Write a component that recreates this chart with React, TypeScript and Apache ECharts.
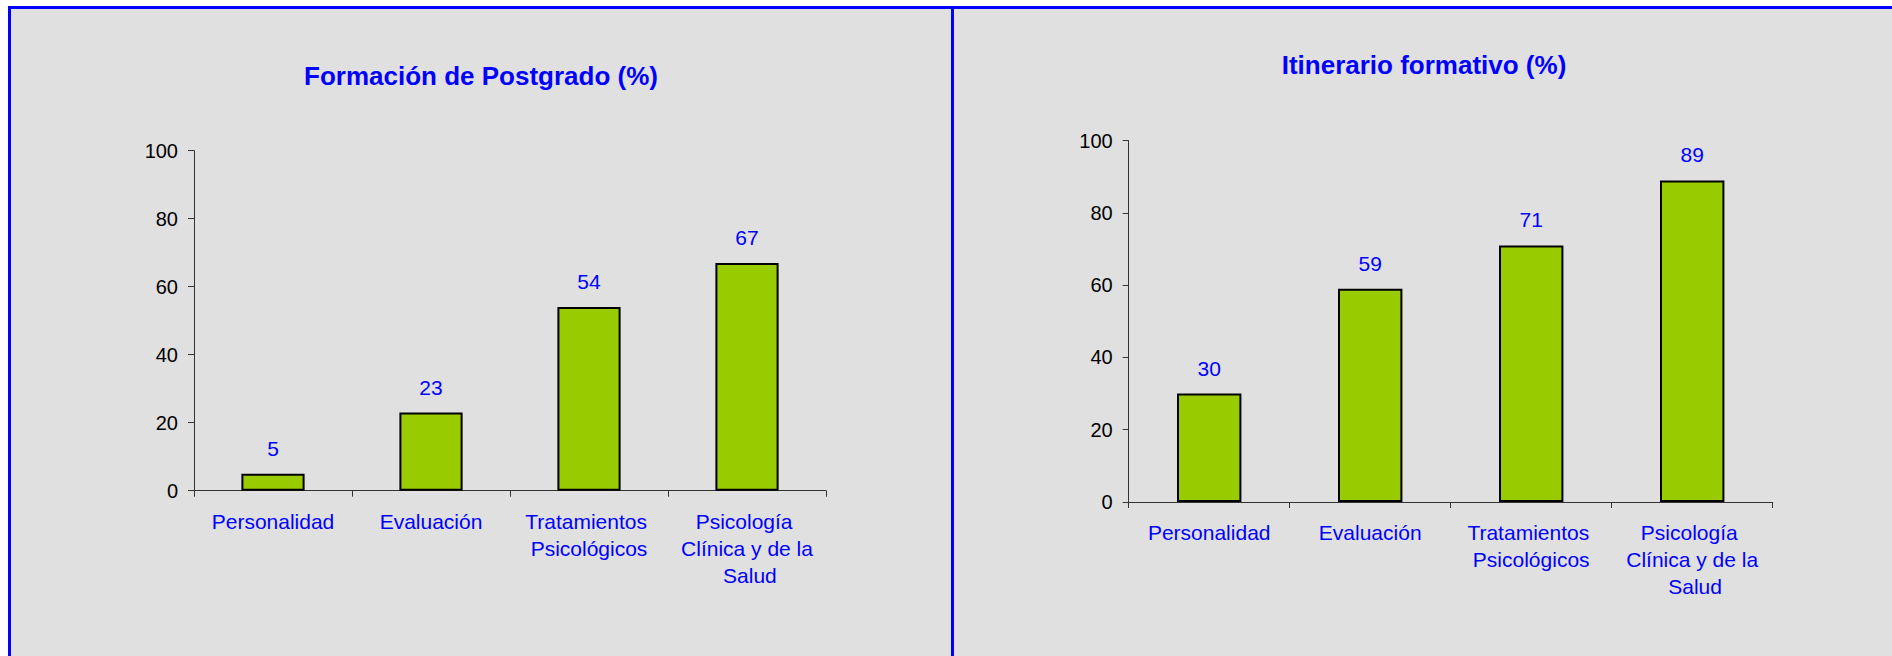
import React, { useEffect, useRef } from "react";
import * as echarts from "echarts";

const categories = [
  "Personalidad",
  "Evaluación",
  "Tratamientos Psicológicos",
  "Psicología Clínica y de la Salud",
];
const postgradoValues = [5, 23, 54, 67];
const itinerarioValues = [30, 59, 71, 89];
const postgradoTitle = "Formación de Postgrado (%)";
const itinerarioTitle = "Itinerario formativo (%)";
const yMin = 0;
const yMax = 100;
const yStep = 20;

const FONT = "'Liberation Sans', Arial, sans-serif";
const BLUE = "#0000ff";

type Layout = { titleTop: number; left: number; top: number; width: number; height: number };

function buildOption(title: string, values: number[], l: Layout): any {
  return {
    animation: false,
    backgroundColor: "transparent",
    title: {
      text: title,
      left: "center",
      top: l.titleTop,
      padding: 0,
      textStyle: { color: BLUE, fontSize: 26, fontWeight: "bold", fontFamily: FONT },
    },
    grid: { left: l.left, top: l.top, width: l.width, height: l.height, containLabel: false },
    xAxis: {
      type: "category",
      data: categories,
      axisLine: { lineStyle: { color: "#333", width: 1 } },
      axisTick: { show: true, length: 6, lineStyle: { color: "#333" } },
      axisLabel: {
        interval: 0,
        color: BLUE,
        fontSize: 21,
        fontFamily: FONT,
        margin: 17,
        lineHeight: 27,
        width: 150,
        overflow: "break",
        align: "center",
      },
      splitLine: { show: false },
    },
    yAxis: {
      type: "value",
      min: yMin,
      max: yMax,
      interval: yStep,
      axisLine: { show: true, lineStyle: { color: "#333", width: 1 } },
      axisTick: { show: true, length: 6, lineStyle: { color: "#333" } },
      axisLabel: { color: "#000", fontSize: 20, fontFamily: FONT, margin: 16 },
      splitLine: { show: false },
    },
    series: [
      {
        type: "bar",
        data: values,
        barWidth: "40%",
        itemStyle: { color: "#99cc00", borderColor: "#000", borderWidth: 2 },
        label: {
          show: true,
          position: "top",
          distance: 15,
          color: BLUE,
          fontSize: 21,
          fontFamily: FONT,
        },
      },
    ],
  };
}

function Chart({ option, style }: { option: any; style: React.CSSProperties }) {
  const ref = useRef<HTMLDivElement>(null);
  useEffect(() => {
    if (!ref.current) return;
    const chart = echarts.init(ref.current, undefined, { renderer: "svg" });
    chart.setOption(option);
    return () => chart.dispose();
  }, [option]);
  return <div ref={ref} style={style} />;
}

const leftOption = buildOption(postgradoTitle, postgradoValues, {
  titleTop: 57,
  left: 186,
  top: 144.7,
  width: 632,
  height: 340,
});
const rightOption = buildOption(itinerarioTitle, itinerarioValues, {
  titleTop: 46,
  left: 177.7,
  top: 134.7,
  width: 644,
  height: 361.3,
});

export default function App() {
  const panelBase: React.CSSProperties = {
    position: "absolute",
    top: 6,
    width: 946,
    height: 700,
    boxSizing: "border-box",
    border: "3px solid " + BLUE,
    background: "#e0e0e0",
  };
  const chartBase: React.CSSProperties = {
    position: "absolute",
    top: 6,
    width: 946,
    height: 650,
  };
  return (
    <div
      style={{
        position: "fixed",
        left: 0,
        top: 0,
        width: "100vw",
        height: "100vh",
        overflow: "hidden",
        background: "#fff",
      }}
    >
      <div style={{ ...panelBase, left: 8 }} />
      <div style={{ ...panelBase, left: 951 }} />
      <Chart option={leftOption} style={{ ...chartBase, left: 8 }} />
      <Chart option={rightOption} style={{ ...chartBase, left: 951 }} />
    </div>
  );
}
